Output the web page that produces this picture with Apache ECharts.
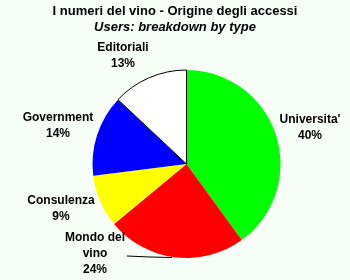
<!DOCTYPE html>
<html><head><meta charset="utf-8">
<script src="https://cdn.jsdelivr.net/npm/echarts@6/dist/echarts.min.js"></script>
<style>html,body{margin:0;padding:0;background:#f7fdf7}#c{width:350px;height:280px}</style>
</head><body><div id="c"></div>
<script>
const categories = ["Universita'", "Mondo del\nvino", "Consulenza", "Government", "Editoriali"];
const values = [40, 24, 9, 14, 13];
const colors = ['#00ff00', '#ff0000', '#ffff00', '#0000ff', '#ffffff'];

const CX = 186.5, CY = 164, R = 94;
// label block centres (layout only)
const labelPos = [[310, 128], [95, 254], [61, 209], [58, 126], [123, 56]];

const chart = echarts.init(document.getElementById('c'), null, {renderer: 'canvas'});
chart.setOption({
  backgroundColor: '#f7fdf7',
  animation: false,
  title: {
    text: 'I numeri del vino - Origine degli accessi',
    subtext: 'Users: breakdown by type',
    left: 'center', top: 0, itemGap: 3,
    textStyle: {fontFamily: 'Liberation Sans, Arial', fontWeight: 'bold', fontSize: 13, color: '#000'},
    subtextStyle: {fontFamily: 'Liberation Sans, Arial', fontWeight: 'bold', fontStyle: 'italic', fontSize: 13, color: '#000'}
  },
  series: [{
    type: 'pie',
    center: [CX, CY],
    radius: [0, R],
    startAngle: 90,
    clockwise: true,
    data: categories.map((n, i) => ({
      name: n, value: values[i],
      itemStyle: {color: colors[i], borderColor: i === 4 ? '#000' : colors[i], borderWidth: i === 4 ? 1 : 0},
      labelLine: {show: i === 1}
    })),
    label: {
      show: true,
      overflow: 'none',
      formatter: p => p.name + '\n' + Math.round(p.percent) + '%',
      fontFamily: 'Liberation Sans, Arial', fontWeight: 'bold', fontSize: 12,
      lineHeight: 16, color: '#000', align: 'center'
    },
    labelLine: {lineStyle: {color: '#000', width: 1}},
    labelLayout: function (p) {
      const i = p.dataIndex;
      const pos = labelPos[i];
      const out = {x: pos[0], y: pos[1], align: 'center', verticalAlign: 'middle', width: 120};
      if (i === 1) {
        out.labelLinePoints = [[172, 257.5], [150, 257], [127, 256]];
      }
      return out;
    }
  }]
});
</script></body></html>
